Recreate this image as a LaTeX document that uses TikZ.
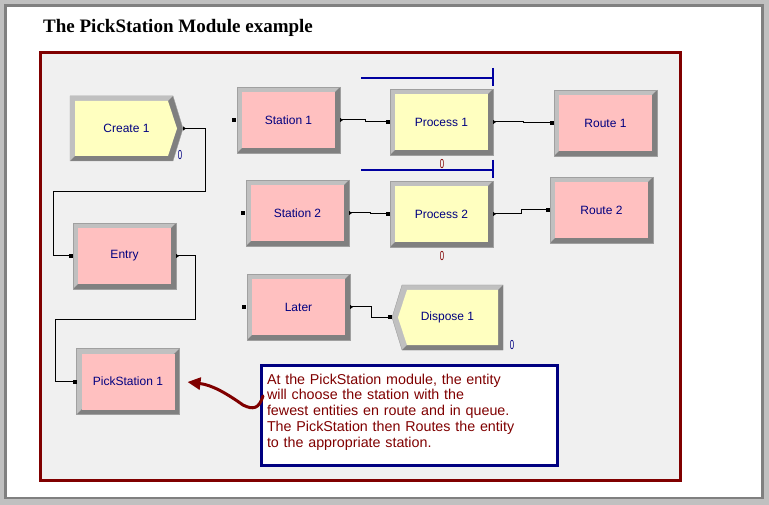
\documentclass[tikz,border=0pt]{standalone}
\usepackage{fontspec}
\setmainfont{Liberation Sans}
\newfontfamily\titlefont{Liberation Serif}
\usetikzlibrary{arrows.meta, calc, positioning, backgrounds}

\definecolor{navy}{HTML}{000080}
\definecolor{queueblue}{HTML}{0000A0}
\definecolor{darkred}{HTML}{800000}
\definecolor{modpink}{HTML}{FFC0C0}
\definecolor{modyellow}{HTML}{FFFFC0}
\definecolor{bevlight}{HTML}{C0C0C0}
\definecolor{bevdark}{HTML}{808080}
\definecolor{bevedge}{HTML}{A0A0A0}
\definecolor{canvas}{HTML}{F0F0F0}

\begin{document}
\begin{tikzpicture}[
        x=1pt, y=-1pt,
        module/.style={rectangle, minimum width=103pt, minimum height=66pt, inner sep=0pt, outer sep=0pt,
            fill=bevlight, draw=bevedge, text=navy, font=\fontsize{12}{14}\selectfont,
            path picture={
                \fill[bevdark] (path picture bounding box.north east) -- (path picture bounding box.south east)
                    -- (path picture bounding box.south west) -- ++(5,-5)
                    -- ($(path picture bounding box.north east)+(-5,5)$) -- cycle;
                \fill[#1] ($(path picture bounding box.north west)+(5,5)$) rectangle ($(path picture bounding box.south east)+(-5,-5)$);
            }},
        chev/.style={rectangle, minimum height=65pt, inner sep=0pt, outer sep=0pt, text=navy, font=\fontsize{12}{14}\selectfont},
        count/.style={inner sep=0pt, xscale=0.6, font=\fontsize{13}{13}\selectfont},
        queue/.style={draw=queueblue, line width=1.2pt},
        conn/.style={line width=1pt, {Triangle[reversed,length=3pt,width=4pt]}-{Square[length=4pt,width=4pt]}},
        callout/.style={rectangle, draw=navy, line width=3pt, fill=white, text=darkred, outer sep=0pt, inner sep=0pt,
            minimum width=296pt, minimum height=100pt, text width=284pt, align=left, font=\fontsize{14.3}{15.7}\selectfont},
        notearrow/.style={darkred, line width=3pt, line cap=round, -{Triangle[length=13pt,width=12pt]}}
    ]
        \useasboundingbox (0,0) rectangle (769,505);

        % Title
        \node[anchor=west, inner sep=0pt, font=\titlefont\bfseries\fontsize{19}{21}\selectfont] (title) at (43,28) {The PickStation Module example};

        % Modules
        \node[chev, minimum width=113pt] (create) at (126.5,128.5) {Create 1};
        \node[module=modpink] (station1) at (288.5,120) {Station 1};
        \node[module=modyellow] (process1) at (441.5,122) {Process 1};
        \node[module=modpink] (route1) at (605.5,123) {Route 1};
        \node[module=modpink] (station2) at (297.5,213) {Station 2};
        \node[module=modyellow] (process2) at (441.5,214) {Process 2};
        \node[module=modpink] (route2) at (601.5,210) {Route 2};
        \node[module=modpink] (later) at (298.5,307) {Later};
        \node[chev, minimum width=111pt] (dispose) at (447.5,317.5) {Dispose 1};
        \node[module=modpink] (entry) at (124.5,256) {Entry};
        \node[module=modpink] (pick) at (128,381.5) {PickStation 1};

        % Frames and chevron shapes, behind the labels
        \begin{scope}[on background layer]
            \fill[bevlight] (0,0) rectangle (769,505);
            \fill[bevdark] (4,4) rectangle (764,499);
            \fill[white] (7,7) rectangle (761,497);
            \draw[darkred, line width=3pt, fill=canvas] (40.5,52.5) rectangle (680.5,480.5);

            \filldraw[fill=bevdark, draw=bevedge] (create.north west) -- ($(create.north east)+(-10,0)$) -- (create.east)
                -- ($(create.south east)+(-10,0)$) -- (create.south west) -- cycle;
            \fill[bevlight] (create.north west) -- ($(create.north east)+(-10,0)$) -- ($(create.north east)+(-15,5)$)
                -- ($(create.north west)+(5,5)$) -- ($(create.south west)+(5,-5)$) -- (create.south west) -- cycle;
            \fill[modyellow] ($(create.north west)+(5,5)$) -- ($(create.north east)+(-15,5)$) -- ($(create.east)+(-6,0)$)
                -- ($(create.south east)+(-15,-5)$) -- ($(create.south west)+(5,-5)$) -- cycle;

            \filldraw[fill=bevlight, draw=bevedge] ($(dispose.north west)+(10,0)$) -- (dispose.north east) -- (dispose.south east)
                -- ($(dispose.south west)+(10,0)$) -- (dispose.west) -- cycle;
            \fill[bevdark] (dispose.north east) -- (dispose.south east) -- ($(dispose.south west)+(10,0)$)
                -- ($(dispose.south west)+(15,-5)$) -- ($(dispose.south east)+(-5,-5)$) -- ($(dispose.north east)+(-5,5)$) -- cycle;
            \fill[modyellow] ($(dispose.north west)+(15,5)$) -- ($(dispose.north east)+(-5,5)$) -- ($(dispose.south east)+(-5,-5)$)
                -- ($(dispose.south west)+(15,-5)$) -- ($(dispose.west)+(6,0)$) -- cycle;
        \end{scope}

        % Queues
        \foreach \m in {process1, process2}
            \draw[queue] ($(\m.north west)+(-29,-11)$) -- ($(\m.north east)+(0,-11)$) ++(0,-10) -- ++(0,18);

        % Counters
        \node[count, text=navy] (create count) at (180,155) {0};
        \node[count, text=darkred] (process1 count) at (442,164) {0};
        \node[count, text=darkred] (process2 count) at (442,256) {0};
        \node[count, text=navy] (dispose count) at (512,345) {0};

        % Entry points with no connection
        \foreach \m in {station1, station2, later}
            \fill ($(\m.west)+(-5,-2)$) rectangle ++(4,4);

        % Connections
        \draw[conn] (create.east) -| (205,192) -| ($(entry.west)+(-20,0)$) -- (entry.west);
        \draw[conn] (entry.east) -- ++(19,0) |- (55,320) |- (pick.west);
        \draw[conn] (station1.east) -- ++(25,0) |- (process1.west);
        \draw[conn] (process1.east) -- ++(30,0) |- (route1.west);
        \draw[conn] (station2.east) -- ++(21,0) |- (process2.west);
        \draw[conn] (process2.east) -- ++(28,0) |- (route2.west);
        \draw[conn] (later.east) -- ++(21,0) |- (dispose.west);

        % Note
        \node[callout] (note) at (409,415) {At the PickStation module, the entity\\
            will choose the station with the\\
            fewest entities en route and in queue.\\
            The PickStation then Routes the entity\\
            to the appropriate station.\par\vspace{6pt}};
        \draw[notearrow] ($(note.west)+(2,-19)$) .. controls +(-4,13) and +(10,5) .. (243,405)
            .. controls (226,393) and (212,385) .. ($(pick.east)+(8,0.5)$);

    \end{tikzpicture}
\end{document}
